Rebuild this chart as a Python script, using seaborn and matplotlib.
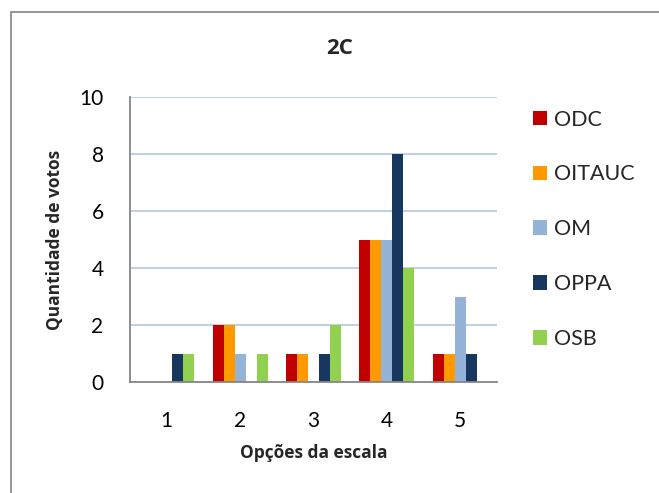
import matplotlib
matplotlib.use("Agg")
import matplotlib.pyplot as plt
from matplotlib.patches import Rectangle, Patch
import seaborn as sns
import pandas as pd

categories = ["1", "2", "3", "4", "5"]
series = ["ODC", "OITAUC", "OM", "OPPA", "OSB"]
odc = [0, 2, 1, 5, 1]
oitauc = [0, 2, 1, 5, 1]
om = [0, 1, 0, 5, 3]
oppa = [1, 0, 1, 8, 1]
osb = [1, 1, 2, 4, 0]
colors = ["#C00000", "#FF9900", "#95B3D7", "#17375E", "#92D050"]

values = [odc, oitauc, om, oppa, osb]
df = pd.DataFrame(
    [(c, s, v) for s, vals in zip(series, values) for c, v in zip(categories, vals)],
    columns=["Opção", "Série", "Votos"],
)

sns.set_style("white")
plt.rcParams["font.family"] = ["Lato", "DejaVu Sans"]
bold_font = ["Open Sans", "DejaVu Sans"]

fig = plt.figure(figsize=(6.59, 4.93), dpi=100)
ax = fig.add_axes([130 / 659, 1 - 382 / 493, 367 / 659, 285 / 493])

sns.barplot(
    data=df, x="Opção", y="Votos", hue="Série", order=categories,
    hue_order=series, palette=colors, saturation=1, width=0.75, gap=0,
    ax=ax, legend=False, linewidth=0, errorbar=None,
)

ax.set_ylim(0, 10)
ax.set_yticks(range(0, 11, 2))
ax.set_xlim(-0.5, 4.5)
ax.yaxis.grid(True, color="#B9CDE5", linewidth=1.3)
ax.set_axisbelow(True)
for side in ["top", "right"]:
    ax.spines[side].set_visible(False)
for side in ["left", "bottom"]:
    ax.spines[side].set_color("#868686")
    ax.spines[side].set_linewidth(1.3)
ax.tick_params(axis="both", length=0, labelsize=15, colors="black")
ax.tick_params(axis="y", pad=19)
ax.tick_params(axis="x", pad=21)
ax.set_xlabel("Opções da escala", fontsize=12.5, fontweight="bold",
              family=bold_font, labelpad=9)
ax.set_ylabel("Quantidade de votos", fontsize=12.5, fontweight="bold",
              family=bold_font, labelpad=11)

fig.text(340 / 659, 1 - 48 / 493, "2C", ha="center", va="center",
         fontsize=16, fontweight="bold", family=bold_font)

handles = [Patch(facecolor=c, edgecolor="none", label=s) for c, s in zip(colors, series)]
fig.legend(
    handles=handles, loc="upper left", bbox_to_anchor=(524 / 659, 1 - 101 / 493),
    frameon=False, fontsize=15.5, handlelength=0.68, handleheight=0.68,
    handletextpad=0.3, labelspacing=1.62, borderaxespad=0,
)

fig.patches.append(Rectangle((11 / 659, -0.1), 1.2, 1 - 12 / 493 + 0.1,
                             transform=fig.transFigure, fill=False,
                             edgecolor="#8C8C8C", linewidth=1.3))

fig.savefig("out.png", dpi=100)
